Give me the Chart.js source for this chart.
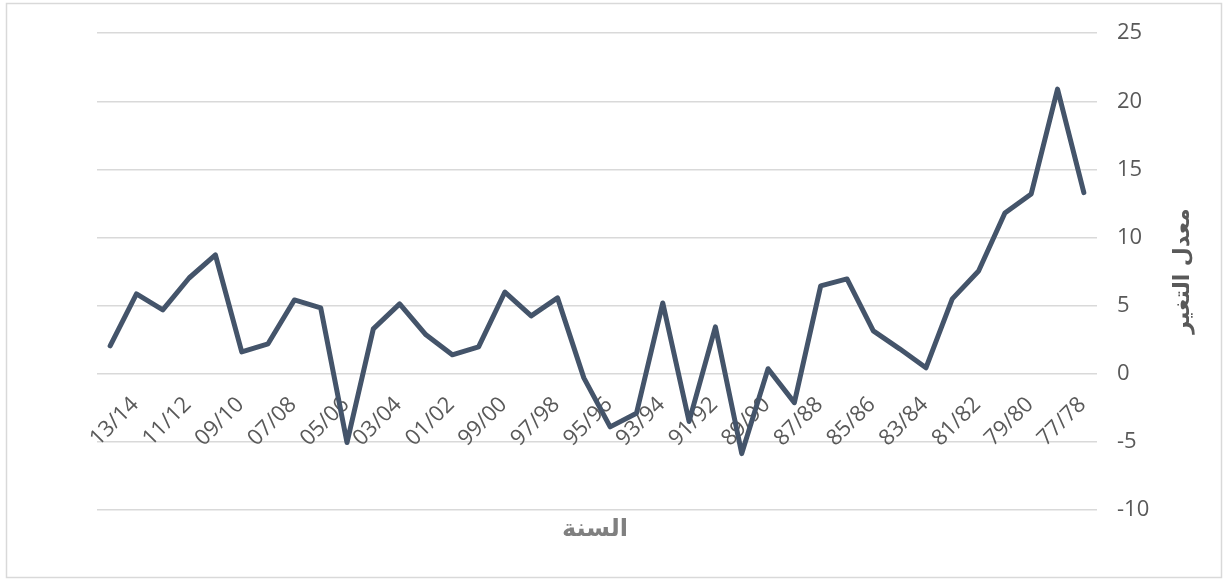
<!DOCTYPE html>
<html>
<head>
<meta charset="utf-8">
<script src="https://cdn.jsdelivr.net/npm/chart.js@4"></script>
<style>
  html, body { margin: 0; padding: 0; background: #ffffff; }
  canvas { display: block; }
</style>
</head>
<body>
<canvas id="c" width="1223" height="581"></canvas>
<script>
// Category labels (fiscal years, as displayed left to right)
const years = ['13/14','12/13','11/12','10/11','09/10','08/09','07/08','06/07','05/06','04/05',
               '03/04','02/03','01/02','00/01','99/00','98/99','97/98','96/97','95/96','94/95',
               '93/94','92/93','91/92','90/91','89/90','88/89','87/88','86/87','85/86','84/85',
               '83/84','82/83','81/82','80/81','79/80','78/79','77/78','76/77'];
// Rate of change values
const changeRate = [2.05, 5.86, 4.69, 7.03, 8.72, 1.61, 2.2, 5.42, 4.84, -5.05,
                    3.3, 5.13, 2.86, 1.39, 1.98, 6.0, 4.25, 5.57, -0.3, -3.9,
                    -2.9, 5.2, -3.5, 3.44, -5.86, 0.37, -2.12, 6.45, 6.96, 3.15,
                    1.83, 0.44, 5.5, 7.55, 11.8, 13.2, 20.9, 13.3];
// Y axis ticks
const yTicks = [-10, -5, 0, 5, 10, 15, 20, 25];
const xTitle = 'السنة';
const yTitle = 'معدل التغير';

const decor = {
  id: 'decor',
  beforeDraw(chart) {
    const ctx = chart.ctx;
    ctx.save();
    ctx.fillStyle = '#ffffff';
    ctx.fillRect(0, 0, chart.width, chart.height);
    ctx.strokeStyle = '#d9d9d9';
    ctx.lineWidth = 1.5;
    ctx.strokeRect(6.5, 3.5, 1215, 574);
    ctx.restore();
  },
  afterDraw(chart) {
    const ctx = chart.ctx;
    const area = chart.chartArea;
    ctx.save();
    ctx.textAlign = 'center';
    ctx.textBaseline = 'middle';
    ctx.direction = 'rtl';
    ctx.font = 'bold 24px "DejaVu Sans"';
    ctx.fillStyle = '#808080';
    ctx.fillText(xTitle, (area.left + area.right) / 2 - 2, 530);
    ctx.font = 'bold 22px "DejaVu Sans"';
    ctx.translate(1183, 271);
    ctx.rotate(-Math.PI / 2);
    ctx.fillStyle = '#595959';
    ctx.fillText(yTitle, 0, 0);
    ctx.restore();
  }
};

new Chart(document.getElementById('c'), {
  type: 'line',
  data: {
    labels: years,
    datasets: [{
      data: changeRate,
      borderColor: '#44546a',
      borderWidth: 5,
      borderJoinStyle: 'round',
      borderCapStyle: 'round',
      pointRadius: 0,
      pointHoverRadius: 0,
      tension: 0,
      fill: false
    }]
  },
  options: {
    responsive: false,
    animation: false,
    events: [],
    layout: { padding: { left: 97, top: 32, bottom: 71, right: 0 } },
    plugins: { legend: { display: false }, tooltip: { enabled: false }, title: { display: false } },
    scales: {
      x: {
        type: 'category',
        offset: true,
        position: { y: 0 },
        grid: { display: false, drawTicks: false },
        border: { display: false },
        ticks: {
          autoSkip: false,
          minRotation: 45,
          maxRotation: 45,
          padding: 18,
          labelOffset: 25,
          color: '#595959',
          font: { family: '"Open Sans"', size: 22 },
          callback: (v, i) => (i % 2 === 0 ? years[i] : '')
        },
        afterCalculateLabelRotation(s) { s.labelRotation = 45; },
        afterFit(s) { s.paddingLeft = 0; s.paddingRight = 0; }
      },
      y: {
        position: 'right',
        min: -10,
        max: 25,
        afterBuildTicks(s) { s.ticks = yTicks.map(v => ({ value: v })); },
        grid: { color: '#d9d9d9', lineWidth: 1.5, drawTicks: false },
        border: { display: false },
        ticks: {
          padding: 20,
          color: '#595959',
          font: { family: '"Open Sans"', size: 22 }
        },
        afterFit(s) { s.width = 126; }
      }
    }
  },
  plugins: [decor]
});
</script>
</body>
</html>
